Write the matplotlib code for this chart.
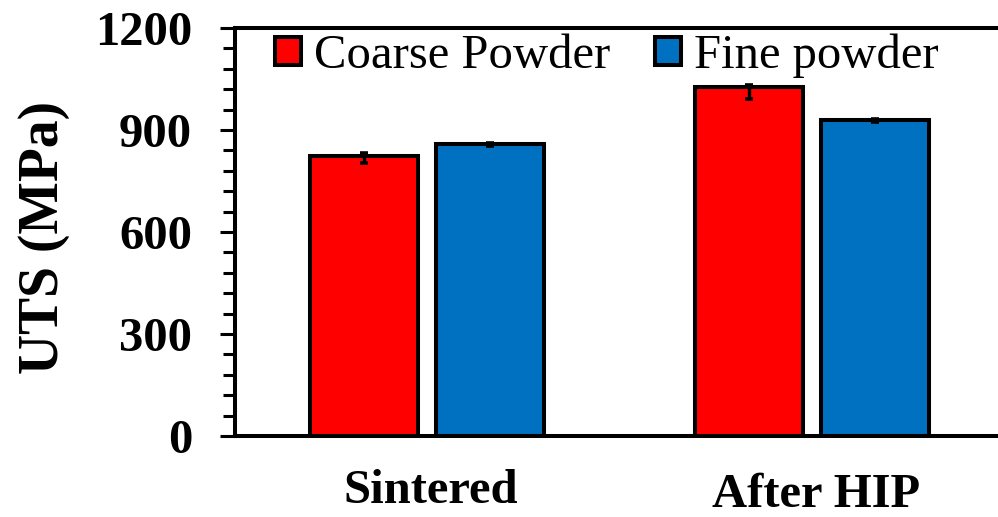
import matplotlib
matplotlib.use("Agg")
import matplotlib.pyplot as plt
from matplotlib.patches import Patch
import numpy as np

plt.rcParams['font.family'] = ['Liberation Serif', 'DejaVu Serif']

# UTS data (MPa)
conditions = ['Sintered', 'After HIP']
coarse_uts = [825, 1026]
fine_uts = [858, 928]
coarse_err_low = [23, 34]
coarse_err_high = [6, 5]
fine_err = [5, 5]

red = '#FF0000'
blue = '#0070C0'

fig = plt.figure(figsize=(9.98, 5.17), dpi=100)
ax = fig.add_axes([235 / 998, 81 / 517, 769 / 998, 408 / 517])

x = np.arange(len(conditions))
w = 0.28
off = 0.164

ax.bar(x - off, coarse_uts, w, color=red, edgecolor='black', linewidth=2.9, zorder=2)
ax.bar(x + off, fine_uts, w, color=blue, edgecolor='black', linewidth=2.9, zorder=2)
ax.errorbar(x - off, coarse_uts, yerr=[coarse_err_low, coarse_err_high], fmt='none',
            ecolor='black', elinewidth=2.4, capsize=3, capthick=2.6, zorder=3)
ax.errorbar(x + off, fine_uts, yerr=fine_err, fmt='none',
            ecolor='black', elinewidth=2.4, capsize=3, capthick=2.6, zorder=3)

ax.set_xlim(-0.5, 1.5)
ax.set_ylim(0, 1200)
ax.set_yticks(np.arange(0, 1201, 300))
ax.yaxis.set_minor_locator(plt.MultipleLocator(60))
ax.tick_params(axis='y', which='major', direction='out', length=10.8, width=2.2,
               pad=20, labelsize=35)
ax.tick_params(axis='y', which='minor', direction='out', length=8.6, width=2.2)
for lab in ax.get_yticklabels():
    lab.set_fontweight('bold')
ax.set_xticks([])

for side in ['left', 'bottom', 'top', 'right']:
    ax.spines[side].set_linewidth(2.9)

ax.set_ylabel('UTS (MPa)', fontsize=40, fontweight='bold')
ax.yaxis.set_label_coords(-0.215, 0.4865)

# category labels (second one sits a little lower)
label_y = [-0.164, -0.174]
for xi, name, yy in zip(x, conditions, label_y):
    ax.text(xi + 0.01, yy, name, transform=ax.get_xaxis_transform(), ha='center',
            va='baseline', fontsize=35, fontweight='bold')

handles = [Patch(facecolor=red, edgecolor='black', linewidth=2.9),
           Patch(facecolor=blue, edgecolor='black', linewidth=2.9)]
ax.legend(handles, ['Coarse Powder', 'Fine powder'], ncol=2, frameon=False,
          loc='center left', bbox_to_anchor=(0.052, 1 - 28 / 408),
          borderaxespad=0, borderpad=0, fontsize=35,
          handlelength=0.53, handleheight=0.53, handletextpad=0.27,
          columnspacing=0.93)

fig.savefig('out.png', dpi=100)
